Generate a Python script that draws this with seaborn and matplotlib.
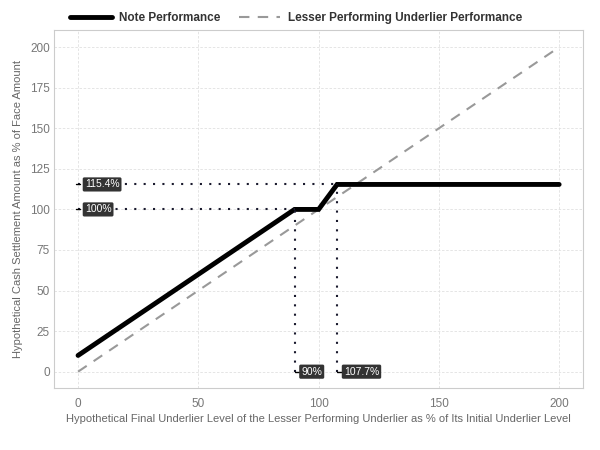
import matplotlib
matplotlib.use("Agg")
import matplotlib.pyplot as plt
import seaborn as sns
import pandas as pd

note_x = [0, 90, 100, 107.7, 200]
note_y = [10, 100, 100, 115.4, 115.4]
under_x = [0, 200]
under_y = [0, 200]
x_ticks = [0, 50, 100, 150, 200]
y_ticks = [0, 25, 50, 75, 100, 125, 150, 175, 200]
h_marks = [(115.4, 107.7, "115.4%"), (100, 90, "100%")]
v_marks = [(90, 100, "90%"), (107.7, 115.4, "107.7%")]

sns.set_theme(style="whitegrid")
plt.rcParams['font.family'] = ['Liberation Sans', 'DejaVu Sans']

fig = plt.figure(figsize=(6, 4.5), dpi=100)
ax = fig.add_axes([0.09, 0.138, 0.882, 0.795])

df_note = pd.DataFrame({"x": note_x, "y": note_y})
df_under = pd.DataFrame({"x": under_x, "y": under_y})

sns.lineplot(data=df_under, x="x", y="y", ax=ax, color="#999999", lw=1.5,
             linestyle=(0, (5, 4)), label="Lesser Performing Underlier Performance", zorder=2)
sns.lineplot(data=df_note, x="x", y="y", ax=ax, color="black", lw=3.5,
             label="Note Performance", zorder=3, solid_joinstyle="miter")

for yv, xe, lab in h_marks:
    ax.plot([0, xe], [yv, yv], color="#1a1a2e", lw=1.5, linestyle=(0, (1, 3.5)), zorder=4)
    ax.plot([-1, 1], [yv, yv], color="black", lw=1, zorder=4)
    ax.text(2.8, yv, lab, color="white", fontsize=7.5, va="center", ha="left", zorder=5,
            bbox=dict(boxstyle="round,pad=0.2,rounding_size=0.15", fc="#333333", ec="none"))
for xv, ye, lab in v_marks:
    ax.plot([xv, xv], [0, ye], color="#1a1a2e", lw=1.5, linestyle=(0, (1, 3.5)), zorder=4)
    ax.plot([xv, xv + 2], [0, 0], color="black", lw=1, zorder=4)
    ax.text(xv + 2.8, 0, lab, color="white", fontsize=7.5, va="center", ha="left", zorder=5,
            bbox=dict(boxstyle="round,pad=0.2,rounding_size=0.15", fc="#333333", ec="none"))

ax.set_xlim(-10, 210)
ax.set_ylim(-10, 210.5)
ax.set_xticks(x_ticks)
ax.set_yticks(y_ticks)
ax.set_xlabel("Hypothetical Final Underlier Level of the Lesser Performing Underlier as % of Its Initial Underlier Level",
              fontsize=8, color="#666666", labelpad=3)
ax.set_ylabel("Hypothetical Cash Settlement Amount as % of Face Amount", fontsize=8, color="#666666", labelpad=5)
ax.tick_params(axis="both", labelsize=8.5, labelcolor="#777777", length=0)
ax.tick_params(axis="x", pad=7)
ax.tick_params(axis="y", pad=3)
ax.grid(True, color="#e0e0e0", linestyle=(0, (3, 2)), lw=0.6)
for s in ax.spines.values():
    s.set_color("#cccccc")
    s.set_linewidth(0.8)

h, l = ax.get_legend_handles_labels()
leg = ax.legend(h[::-1], l[::-1], loc="lower left", bbox_to_anchor=(0.02, 1.0), ncol=2, frameon=False,
                prop={"weight": "bold", "size": 8.5}, handlelength=3.5, columnspacing=1.6,
                borderaxespad=0.1, handletextpad=0.6)
for t in leg.get_texts():
    t.set_color("#333333")

fig.savefig("out.png", dpi=100, facecolor="white")
